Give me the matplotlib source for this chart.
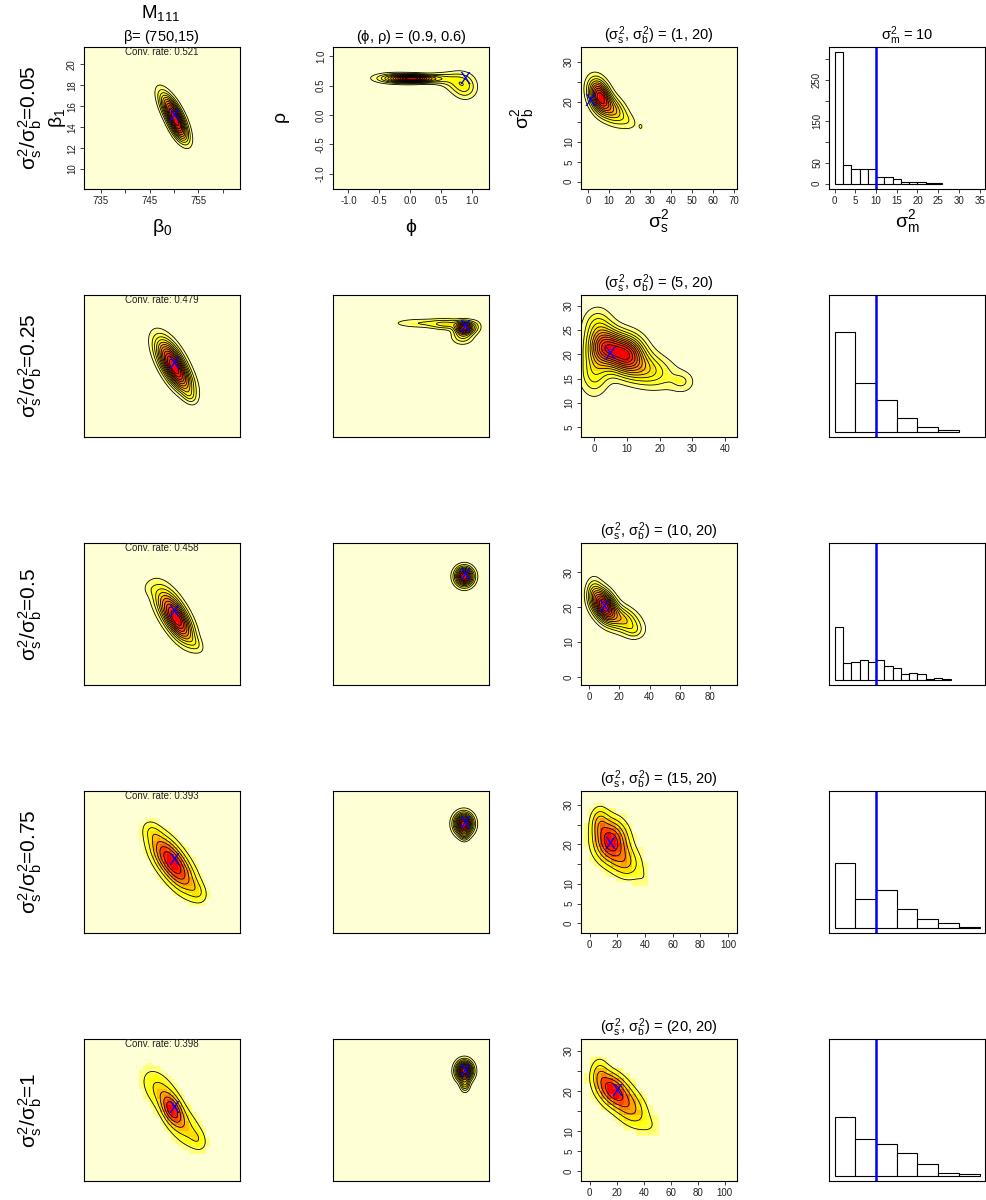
import numpy as np
import matplotlib
matplotlib.use("Agg")
import matplotlib.pyplot as plt
from matplotlib.colors import ListedColormap, BoundaryNorm

plt.rcParams['font.family'] = ['Liberation Sans', 'DejaVu Sans']
plt.rcParams['mathtext.fontset'] = 'custom'
plt.rcParams['mathtext.rm'] = 'Liberation Sans'
plt.rcParams['mathtext.it'] = 'Liberation Sans'
plt.rcParams['mathtext.bf'] = 'Liberation Sans:bold'
plt.rcParams['axes.unicode_minus'] = False

# simulation settings per row
ratios = ["0.05", "0.25", "0.5", "0.75", "1"]
conv_rates = [0.521, 0.479, 0.458, 0.393, 0.398]
beta_true = (750, 15)
phi_rho_true = (0.9, 0.6)
sig_s_true = [1, 5, 10, 15, 20]
sig_b_true = 20
sig_m_true = 10

# posterior density summaries: (mean x, mean y, sd x, sd y, corr, weight)
beta_post = [
    [(749.8, 15.3, 1.7, 1.25, -0.72, 1.0), (751.0, 13.7, 1.3, 0.9, -0.6, 0.45)],
    [(749.3, 15.5, 2.1, 1.4, -0.6, 1.0), (751.2, 13.8, 2.0, 1.2, -0.6, 0.65),
     (753.2, 12.0, 0.9, 0.5, -0.3, 0.15)],
    [(749.2, 15.4, 2.3, 1.5, -0.6, 0.8), (751.2, 13.9, 2.0, 1.3, -0.6, 0.9),
     (754.5, 12.0, 1.2, 0.6, -0.5, 0.15), (744.8, 17.3, 1.0, 0.5, 0.0, 0.08)],
    [(748.5, 15.5, 2.5, 1.5, -0.55, 1.0), (751.5, 13.7, 2.5, 1.5, -0.55, 0.75),
     (745.5, 17.8, 1.3, 0.7, -0.3, 0.22), (755.0, 12.0, 1.3, 0.7, -0.3, 0.22)],
    [(749.6, 14.9, 1.5, 1.0, -0.4, 1.0), (747.0, 16.8, 2.5, 1.4, -0.45, 0.5),
     (752.3, 13.2, 2.5, 1.4, -0.45, 0.5), (755.0, 12.0, 1.2, 0.7, -0.3, 0.2)],
]
phirho_post = [
    [(0.05, 0.62, 0.22, 0.045, 0.0, 1.0), (-0.3, 0.63, 0.22, 0.06, 0.0, 0.25),
     (0.8, 0.57, 0.16, 0.12, 0.0, 0.25), (0.9, 0.42, 0.13, 0.12, 0.0, 0.17),
     (0.5, 0.62, 0.15, 0.07, 0.0, 0.18)],
    [(0.88, 0.6, 0.09, 0.07, 0.0, 1.0), (0.85, 0.45, 0.12, 0.09, 0.0, 0.3),
     (0.15, 0.68, 0.3, 0.055, 0.0, 0.2), (0.6, 0.66, 0.18, 0.06, 0.0, 0.3),
     (1.05, 0.62, 0.08, 0.08, 0.0, 0.2)],
    [(0.88, 0.59, 0.1, 0.11, 0.0, 1.0), (0.25, 0.74, 0.08, 0.025, 0.0, 0.087)],
    [(0.87, 0.6, 0.1, 0.12, 0.0, 1.0), (0.88, 0.4, 0.05, 0.06, 0.0, 0.2)],
    [(0.88, 0.62, 0.09, 0.11, 0.0, 1.0), (0.89, 0.38, 0.05, 0.08, 0.0, 0.3)],
]
sig_post = [
    [(5.5, 21.5, 3.5, 2.8, -0.3, 1.0), (12, 18, 4.5, 2.5, -0.4, 0.5),
     (25.5, 13.8, 1.2, 1.0, 0.0, 0.09), (20, 15, 3, 1.5, -0.3, 0.1)],
    [(3.5, 21.5, 3.5, 2.5, 0.0, 1.0), (10, 20.2, 3.5, 2.5, 0.0, 0.95),
     (15, 17, 6, 2.5, -0.3, 0.5), (27, 14.3, 2.5, 1.5, 0.0, 0.18),
     (0, 16, 3, 3, 0.0, 0.35), (1, 26, 3, 2.5, 0.0, 0.3)],
    [(10, 20.5, 5, 3, -0.3, 1.0), (22, 16.5, 8, 2.8, -0.4, 0.45),
     (3, 24, 3.5, 3, 0.0, 0.25), (30, 13, 4, 1.5, 0.0, 0.1)],
    [(15, 21, 8, 3.5, 0.0, 1.0), (26, 15.5, 8, 3, -0.2, 0.45),
     (7, 26, 4.5, 2.5, 0.0, 0.35), (40, 11, 4, 2, 0.0, 0.08)],
    [(16, 20.5, 8, 3.0, -0.3, 1.0), (30, 16, 9, 3.5, -0.4, 0.6),
     (7, 25, 4.5, 2.5, 0.0, 0.3), (47, 11, 6, 2, 0.0, 0.1)],
]

# sigma_m^2 histograms (bin width, counts)
hist_width = [2, 5, 2, 5, 5]
hist_counts = [
    [317, 44, 36, 35, 36, 15, 15, 10, 3, 3, 3, 2, 1],
    [240, 116, 77, 32, 12, 5],
    [127, 39, 43, 47, 43, 47, 33, 29, 13, 17, 13, 2, 5, 2],
    [156, 68, 90, 46, 21, 11, 2],
    [140, 89, 77, 55, 27, 7, 3],
]

heat = ["#FF0000", "#FF2000", "#FF4000", "#FF6000", "#FF8000", "#FF9F00",
        "#FFBF00", "#FFDF00", "#FFFF00", "#FFFF2A", "#FFFF80", "#FFFFD5"][::-1]
cmap = ListedColormap(heat)

beta_lim = ((731.6, 763.5), (8.1, 21.65))
phirho_lim = ((-1.25, 1.28), (-1.26, 1.16))
sig_xlim = [(-3.4, 71.6), (-4.0, 43.6), (-5.3, 97.7), (-6.3, 106.5), (-6.5, 109.2)]
sig_ylim = [(-1.8, 33.75), (2.96, 32.2), (-2.3, 38.4), (-2.45, 33.5), (-2.4, 33.0)]
hist_lim = ((-1.37, 36.3), (-12.9, 328.8))

beta_nlev = [11, 12, 10, 6, 5]
phirho_nlev = [12, 10, 10, 12, 12]
sig_nlev = [10, 12, 12, 6, 5]
sig_cells = [50, 45, 35, 30, 28]

W, H = 986, 1200
col_left = [84, 333, 581, 829]
row_top = [47, 295, 543, 791, 1039]
pw, ph = 156, 142


def density(blobs, x, y):
    X, Y = np.meshgrid(x, y)
    Z = np.zeros_like(X)
    for mx, my, sx, sy, r, w in blobs:
        u = (X - mx) / sx
        v = (Y - my) / sy
        Z += w * np.exp(-(u * u - 2 * r * u * v + v * v) / (2 * (1 - r * r)))
    return Z


def heat_panel(ax, blobs, xlim, ylim, nlev, ncell=45):
    xc = np.linspace(xlim[0], xlim[1], ncell)
    yc = np.linspace(ylim[0], ylim[1], ncell)
    Z = density(blobs, xc, yc)
    norm = BoundaryNorm(np.linspace(0, Z.max() * 1.0001, 13), 12)
    ax.pcolormesh(xc, yc, Z, cmap=cmap, norm=norm, shading='nearest')
    xf = np.linspace(xlim[0], xlim[1], 220)
    yf = np.linspace(ylim[0], ylim[1], 220)
    Zf = density(blobs, xf, yf)
    levels = Zf.max() * np.arange(1, nlev + 1) / (nlev + 1)
    ax.contour(xf, yf, Zf, levels=levels, colors='black', linewidths=0.6)
    ax.set_xlim(xlim)
    ax.set_ylim(ylim)


def style_axes(ax, xt=None, xl=None, yt=None, yl=None):
    for s in ax.spines.values():
        s.set_linewidth(0.8)
    if xt is None:
        ax.set_xticks([])
        ax.set_yticks([])
        return
    ax.set_xticks(xt)
    ax.set_xticklabels(xl)
    ax.set_yticks(yt)
    ax.set_yticklabels(yl, rotation=90, va='center')
    ax.tick_params(length=3, width=0.6, labelsize=7, pad=2, colors='#222222')


def mark(ax, x, y):
    ax.text(x, y, 'X', color='blue', fontsize=12, ha='center', va='center')


fig = plt.figure(figsize=(W / 100, H / 100), dpi=100)


def panel(r, c):
    return fig.add_axes([col_left[c] / W, 1 - (row_top[r] + ph) / H, pw / W, ph / H])


for r in range(5):
    # beta_0 vs beta_1
    ax = panel(r, 0)
    heat_panel(ax, beta_post[r], beta_lim[0], beta_lim[1], beta_nlev[r], 45)
    mark(ax, *beta_true)
    ax.text(0.5, 1 - 5 / ph, f"Conv. rate: {conv_rates[r]}", transform=ax.transAxes,
            ha='center', va='center', fontsize=7, color='#222222')
    if r == 0:
        style_axes(ax, [735, 740, 745, 750, 755, 760], ['735', '', '745', '', '755', ''],
                   [10, 12, 14, 16, 18, 20], ['10', '12', '14', '16', '18', '20'])
        ax.text(0.5, -38 / ph, r'$\beta_0$', transform=ax.transAxes, ha='center', va='center', fontsize=14)
        ax.text(-26 / pw, 0.5, r'$\beta_1$', transform=ax.transAxes, ha='center', va='center',
                fontsize=14, rotation=90)
    else:
        style_axes(ax)

    # phi vs rho
    ax = panel(r, 1)
    heat_panel(ax, phirho_post[r], phirho_lim[0], phirho_lim[1], phirho_nlev[r], 55)
    mark(ax, *phi_rho_true)
    if r == 0:
        tk = [-1.0, -0.5, 0.0, 0.5, 1.0]
        tl = ['-1.0', '-0.5', '0.0', '0.5', '1.0']
        style_axes(ax, tk, tl, tk, tl)
        ax.text(0.5, -38 / ph, r'$\phi$', transform=ax.transAxes, ha='center', va='center', fontsize=14)
        ax.text(-50 / pw, 0.5, r'$\rho$', transform=ax.transAxes, ha='center', va='center',
                fontsize=14, rotation=90)
        ax.set_title(r'($\phi$, $\rho$) = (0.9, 0.6)', fontsize=10.5, pad=4)
    else:
        style_axes(ax)

    # sigma_s^2 vs sigma_b^2
    ax = panel(r, 2)
    heat_panel(ax, sig_post[r], sig_xlim[r], sig_ylim[r], sig_nlev[r], sig_cells[r])
    mark(ax, sig_s_true[r], sig_b_true)
    if r == 0:
        xt = list(range(0, 71, 10))
        yt, yl = [0, 5, 10, 15, 20, 25, 30], ['0', '5', '10', '', '20', '', '30']
    elif r == 1:
        xt = list(range(0, 41, 10))
        yt = [5, 10, 15, 20, 25, 30]
        yl = [str(v) for v in yt]
    elif r == 2:
        xt = list(range(0, 81, 20))
        yt = [0, 10, 20, 30]
        yl = [str(v) for v in yt]
    else:
        xt = list(range(0, 101, 20))
        yt, yl = [0, 5, 10, 15, 20, 25, 30], ['0', '5', '10', '', '20', '', '30']
    style_axes(ax, xt, [str(v) for v in xt], yt, yl)
    ax.set_title(rf'($\sigma^2_s$, $\sigma^2_b$) = ({sig_s_true[r]}, {sig_b_true})',
                 fontsize=10.5, pad=4)
    if r == 0:
        ax.text(0.5, -33 / ph, r'$\sigma^2_s$', transform=ax.transAxes, ha='center', va='center', fontsize=14)
        ax.text(-58 / pw, 0.5, r'$\sigma^2_b$', transform=ax.transAxes, ha='center', va='center',
                fontsize=14, rotation=90)

    # sigma_m^2 histogram
    ax = panel(r, 3)
    counts = hist_counts[r]
    edges = hist_width[r] * np.arange(len(counts) + 1)
    ax.bar(edges[:-1], counts, width=hist_width[r], align='edge',
           facecolor='white', edgecolor='black', linewidth=0.8)
    ax.axvline(sig_m_true, color='blue', lw=1.8)
    ax.set_xlim(hist_lim[0])
    ax.set_ylim(hist_lim[1])
    if r == 0:
        xt = list(range(0, 36, 5))
        style_axes(ax, xt, [str(v) for v in xt], [0, 50, 100, 150, 200, 250, 300],
                   ['0', '50', '', '150', '', '250', ''])
        ax.set_title(rf'$\sigma^2_m$ = {sig_m_true}', fontsize=10.5, pad=4)
        ax.text(0.5, -33 / ph, r'$\sigma^2_m$', transform=ax.transAxes, ha='center', va='center', fontsize=14)
    else:
        style_axes(ax)

    # row label
    fig.text(30 / W, 1 - (row_top[r] + ph / 2) / H, rf'$\sigma^2_s/\sigma^2_b$={ratios[r]}',
             rotation=90, ha='center', va='center', fontsize=15)

fig.text(161 / W, 1 - 13 / H, r'M$_{111}$', ha='center', va='center', fontsize=13.5)
fig.text(161 / W, 1 - 37 / H, r'$\beta$= (750,15)', ha='center', va='center', fontsize=10.5)

fig.savefig('out.png', dpi=100)
